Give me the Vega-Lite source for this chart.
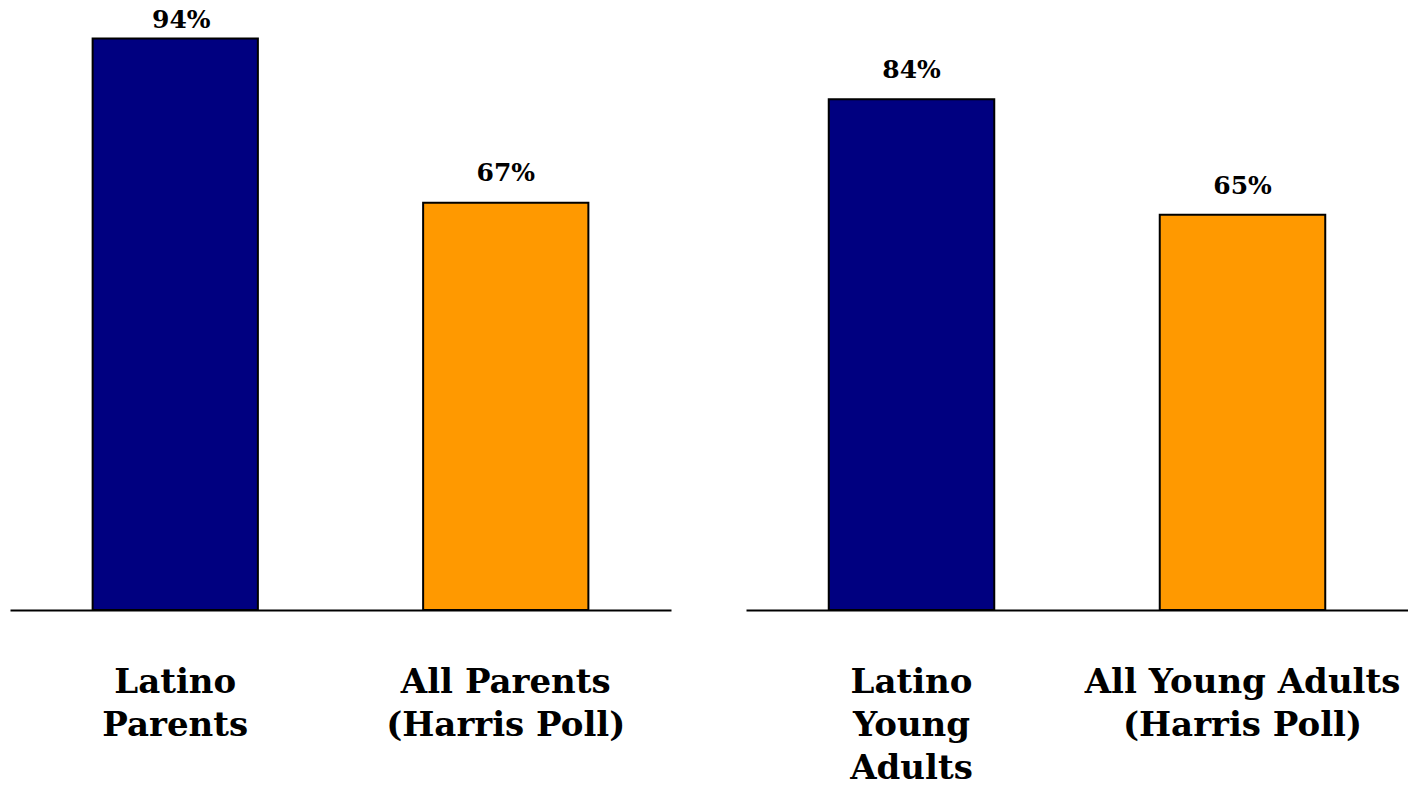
{
  "$schema": "https://vega.github.io/schema/vega-lite/v6.json",
  "autosize": {"type": "pad"},
  "padding": {"left": 10, "top": 2, "right": 0, "bottom": 0},
  "background": "white",
  "data": {
    "values": [
      {"panel": "Parents", "group": "Latino|Parents", "kind": "Latino", "value": 0.94},
      {"panel": "Parents", "group": "All Parents|(Harris Poll)", "kind": "All", "value": 0.67},
      {"panel": "Young", "group": "Latino|Young|Adults", "kind": "Latino", "value": 0.84},
      {"panel": "Young", "group": "All Young Adults|(Harris Poll)", "kind": "All", "value": 0.65}
    ]
  },
  "spacing": 75,
  "hconcat": [
    {
      "width": 661,
      "height": 608,
      "transform": [{"filter": "datum.panel === 'Parents'"}],
      "encoding": {
        "x": {"field": "group", "type": "nominal", "sort": null, "title": null,
              "scale": {"paddingInner": 0.5, "paddingOuter": 0.25}},
        "y": {"field": "value", "type": "quantitative", "axis": null, "scale": {"domain": [0, 1]}}
      },
      "layer": [
        {"mark": {"type": "bar", "stroke": "black", "strokeWidth": 2},
         "encoding": {"color": {"field": "kind", "type": "nominal", "legend": null,
           "scale": {"domain": ["Latino", "All"], "range": ["#000080", "#FF9900"]}}}},
        {"transform": [{"filter": "datum.value < 0.9"}],
         "mark": {"type": "text", "baseline": "alphabetic", "dy": -22, "font": "DejaVu Serif", "fontWeight": "bold", "fontSize": 25, "color": "black"},
         "encoding": {"text": {"field": "value", "type": "quantitative", "format": ".0%"}}},
        {"transform": [{"filter": "datum.value >= 0.9"}],
         "mark": {"type": "text", "baseline": "alphabetic", "dy": -10, "dx": 6, "font": "DejaVu Serif", "fontWeight": "bold", "fontSize": 25, "color": "black"},
         "encoding": {"text": {"field": "value", "type": "quantitative", "format": ".0%"}}}
      ]
    },
    {
      "width": 662,
      "height": 608,
      "transform": [{"filter": "datum.panel === 'Young'"}],
      "encoding": {
        "x": {"field": "group", "type": "nominal", "sort": null, "title": null,
              "scale": {"paddingInner": 0.5, "paddingOuter": 0.25}},
        "y": {"field": "value", "type": "quantitative", "axis": null, "scale": {"domain": [0, 1]}}
      },
      "layer": [
        {"mark": {"type": "bar", "stroke": "black", "strokeWidth": 2},
         "encoding": {"color": {"field": "kind", "type": "nominal", "legend": null,
           "scale": {"domain": ["Latino", "All"], "range": ["#000080", "#FF9900"]}}}},
        {"mark": {"type": "text", "baseline": "alphabetic", "dy": -21, "font": "DejaVu Serif", "fontWeight": "bold", "fontSize": 25, "color": "black"},
         "encoding": {"text": {"field": "value", "type": "quantitative", "format": ".0%"}}}
      ]
    }
  ],
  "config": {
    "view": {"stroke": null},
    "axisX": {
      "domain": true, "domainColor": "black", "domainWidth": 2,
      "ticks": false, "grid": false,
      "labelAngle": 0, "labelLimit": 0, "labelOverlap": false, "labelFlush": false,
      "labelExpr": "split(datum.label, '|')",
      "labelFont": "DejaVu Serif", "labelFontWeight": "bold", "labelFontSize": 34,
      "labelColor": "black", "labelBaseline": "top", "labelPadding": 55, "labelLineHeight": 43
    }
  }
}
